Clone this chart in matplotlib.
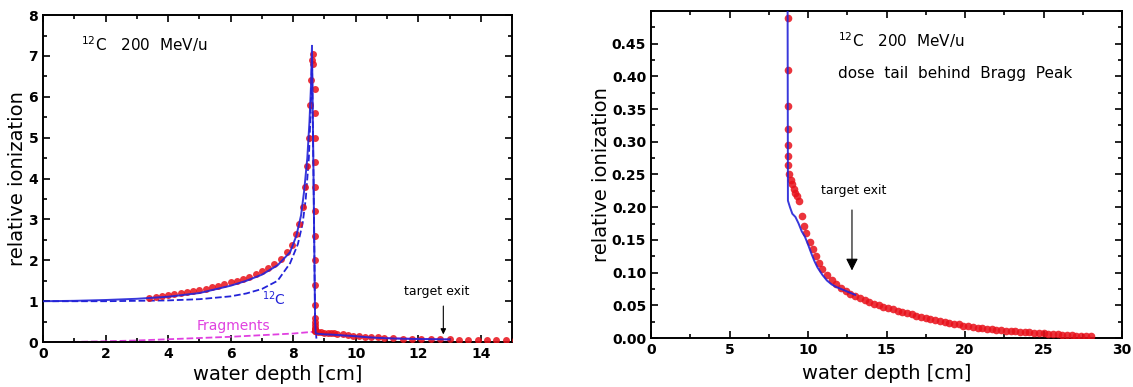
import matplotlib
matplotlib.use('Agg')
import matplotlib.pyplot as plt
from matplotlib.ticker import MultipleLocator, FormatStrFormatter

# measured ionization (red dots), depth in cm
meas_x = [3.4, 3.6, 3.8, 4.0, 4.2, 4.4, 4.6, 4.8, 5.0, 5.2, 5.4, 5.6, 5.8, 6.0, 6.2, 6.4,
          6.6, 6.8, 7.0, 7.2, 7.4, 7.6, 7.8, 7.95, 8.1, 8.2, 8.3, 8.38, 8.44, 8.5, 8.55, 8.58,
          8.6, 8.62, 8.64,
          8.7, 8.7, 8.7, 8.7, 8.7, 8.7, 8.7, 8.7, 8.7, 8.7, 8.7, 8.7, 8.7, 8.7, 8.7, 8.7, 8.7, 8.7,
          8.8, 8.9, 9.0, 9.1, 9.2, 9.3, 9.4, 9.6, 9.75, 9.9, 10.1, 10.3, 10.5, 10.7, 10.9,
          11.2, 11.5, 11.8, 12.1, 12.4, 12.7, 13.0, 13.3, 13.6, 13.9, 14.2, 14.5, 14.8,
          15.1, 15.4, 15.7, 16.0, 16.3, 16.6, 16.9, 17.2, 17.5, 17.8, 18.1, 18.4, 18.7,
          19.0, 19.3, 19.6, 19.9, 20.2, 20.5, 20.8, 21.1, 21.4, 21.7, 22.0, 22.3, 22.6,
          22.9, 23.2, 23.5, 23.8, 24.1, 24.4, 24.7, 25.0, 25.3, 25.6, 25.9, 26.2, 26.5,
          26.8, 27.1, 27.4, 27.7, 28.0]
meas_y = [1.09, 1.11, 1.13, 1.15, 1.17, 1.19, 1.22, 1.25, 1.28, 1.31, 1.34, 1.38, 1.42, 1.46, 1.5, 1.55,
          1.6, 1.66, 1.73, 1.81, 1.91, 2.03, 2.2, 2.38, 2.65, 2.9, 3.3, 3.8, 4.3, 5.0, 5.8, 6.4,
          6.9, 7.05, 6.8,
          6.2, 5.6, 5.0, 4.4, 3.8, 3.2, 2.6, 2.0, 1.4, 0.9, 0.6, 0.49, 0.41, 0.355, 0.32, 0.295, 0.278, 0.265,
          0.25, 0.242, 0.235, 0.228, 0.222, 0.217, 0.21, 0.187, 0.172, 0.16, 0.147, 0.136, 0.125, 0.115, 0.106,
          0.096, 0.088, 0.082, 0.077, 0.072, 0.068, 0.064, 0.061, 0.058, 0.055, 0.052, 0.05, 0.048,
          0.046, 0.044, 0.042, 0.04, 0.038, 0.036, 0.034, 0.032, 0.030, 0.029, 0.027, 0.026, 0.024,
          0.023, 0.022, 0.021, 0.019, 0.018, 0.017, 0.016, 0.015, 0.014, 0.014, 0.013, 0.012, 0.011,
          0.011, 0.010, 0.0095, 0.009, 0.0085, 0.008, 0.0075, 0.007, 0.0065, 0.006, 0.0055, 0.005, 0.0045,
          0.004, 0.0036, 0.0032, 0.0028, 0.0025]

# calculated total dose (blue solid)
calc_x = [0.0, 1.0, 2.0, 3.0, 4.0, 5.0, 6.0, 6.5, 7.0, 7.5, 7.9, 8.1, 8.25, 8.35, 8.45, 8.52, 8.57,
          8.6, 8.65, 8.7, 8.72, 8.85, 9.0, 9.2, 9.4, 9.6, 9.8, 10.0, 10.2, 10.4, 10.6, 10.9,
          11.2, 11.5, 11.8, 12.1, 12.4, 12.7, 13.0]
calc_y = [1.0, 1.01, 1.03, 1.06, 1.11, 1.2, 1.38, 1.5, 1.65, 1.88, 2.2, 2.6, 3.1, 3.7, 4.5, 5.4, 6.3,
          7.25, 4.0, 0.5, 0.21, 0.2, 0.19, 0.185, 0.175, 0.163, 0.155, 0.143, 0.13, 0.118, 0.108, 0.097,
          0.088, 0.082, 0.078, 0.075, 0.072, 0.069, 0.066]

# primary 12C (blue dashed)
prim_x = [0.3, 1.0, 2.0, 3.0, 4.0, 5.0, 6.0, 6.5, 7.0, 7.5, 7.9, 8.15, 8.3, 8.4, 8.5, 8.55, 8.6, 8.65, 8.7, 8.75]
prim_y = [1.0, 1.0, 1.0, 1.01, 1.02, 1.05, 1.12, 1.19, 1.3, 1.5, 1.93, 2.4, 2.9, 3.5, 4.5, 5.5, 6.9, 4.0, 0.5, 0.0]

# fragments (magenta dashed)
frag_x = [0.0, 1.0, 2.0, 3.0, 4.0, 5.0, 6.0, 7.0, 8.0, 8.6, 8.75, 9.0, 10.0, 11.0, 12.0, 13.0]
frag_y = [0.0, 0.005, 0.02, 0.04, 0.07, 0.1, 0.13, 0.17, 0.21, 0.25, 0.24, 0.19, 0.14, 0.1, 0.08, 0.065]

red = '#e8101a'
blue = '#2323d8'
magenta = '#e040e0'

fig = plt.figure(figsize=(11.33, 3.87), dpi=100)
ax1 = fig.add_axes([0.038, 0.116, 0.414, 0.845])
ax2 = fig.add_axes([0.5746, 0.1266, 0.4157, 0.845])

for ax, ms in ((ax1, 5), (ax2, 5.5)):
    ax.plot(meas_x, meas_y, 'o', color=red, ms=ms, alpha=0.85, mec='none', zorder=3)
    ax.plot(calc_x, calc_y, '-', color=blue, lw=1.4, alpha=0.9, zorder=4)
    ax.tick_params(which='both', direction='in', top=True, right=True, width=1.2, labelsize=10)
    ax.tick_params(which='major', length=5)
    ax.tick_params(which='minor', length=3)
    for s in ax.spines.values():
        s.set_linewidth(1.4)
    ax.set_xlabel('water depth [cm]', fontsize=14)
    ax.set_ylabel('relative ionization', fontsize=14)

# left panel
ax1.plot(prim_x, prim_y, '--', color=blue, lw=1.3, zorder=2)
ax1.plot(frag_x, frag_y, '--', color=magenta, lw=1.3, zorder=2)
ax1.set_xlim(0, 15)
ax1.set_ylim(0, 8)
ax1.xaxis.set_major_locator(MultipleLocator(2))
ax1.xaxis.set_minor_locator(MultipleLocator(1))
ax1.yaxis.set_major_locator(MultipleLocator(1))
ax1.yaxis.set_minor_locator(MultipleLocator(0.5))
ax1.text(1.2, 7.3, r'$^{12}$C   200  MeV/u', fontsize=11, va='center')
ax1.text(7.0, 1.05, r'$^{12}$C', fontsize=10, color=blue, va='center')
ax1.text(6.1, 0.4, 'Fragments', fontsize=10, color=magenta, ha='center', va='center')
ax1.text(12.6, 1.25, 'target exit', fontsize=9, ha='center', va='center')
ax1.annotate('', xy=(12.8, 0.12), xytext=(12.8, 0.95),
             arrowprops=dict(arrowstyle='-|>', color='black', lw=0.8, mutation_scale=8))
ax1.xaxis.set_label_coords(0.5, -0.07)
ax1.yaxis.set_label_coords(-0.035, 0.5)
for lab in ax1.get_xticklabels() + ax1.get_yticklabels():
    lab.set_fontweight('bold')

# right panel
ax2.set_xlim(0, 30)
ax2.set_ylim(0, 0.5)
ax2.set_yticks([0, 0.05, 0.1, 0.15, 0.2, 0.25, 0.3, 0.35, 0.4, 0.45])
ax2.yaxis.set_minor_locator(MultipleLocator(0.025))
ax2.yaxis.set_major_formatter(FormatStrFormatter('%.2f'))
ax2.xaxis.set_major_locator(MultipleLocator(5))
ax2.xaxis.set_minor_locator(MultipleLocator(2.5))
ax2.text(11.9, 0.456, r'$^{12}$C   200  MeV/u', fontsize=11, va='center')
ax2.text(11.9, 0.405, 'dose  tail  behind  Bragg  Peak', fontsize=11, va='center')
ax2.text(12.9, 0.225, 'target exit', fontsize=9, ha='center', va='center')
ax2.annotate('', xy=(12.8, 0.099), xytext=(12.8, 0.2),
             arrowprops=dict(arrowstyle='-|>', color='black', lw=0.8, mutation_scale=18))
ax2.xaxis.set_label_coords(0.5, -0.08)
ax2.yaxis.set_label_coords(-0.085, 0.5)
for lab in ax2.get_xticklabels() + ax2.get_yticklabels():
    lab.set_fontweight('bold')

fig.savefig('out.png', dpi=100)
